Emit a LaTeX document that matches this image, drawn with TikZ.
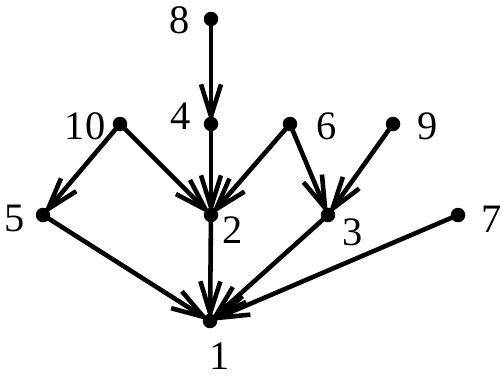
\documentclass[tikz,border=0pt]{standalone}
\usepackage{fontspec}
\setmainfont{Liberation Serif}
\usetikzlibrary{arrows.meta, backgrounds}

\begin{document}
\begin{tikzpicture}[
    x=0.02cm, y=-0.02cm,
    vertex/.style={circle, fill, inner sep=0pt, minimum size=0.29cm},
    lab/.style={font=\fontsize{23}{27}\selectfont, inner sep=0pt},
    arrow/.style={-{Straight Barb[length=0.64cm, width=0.4cm, line width=2.6pt]}, line width=2.6pt}
]
    \useasboundingbox (0,0) rectangle (503,376);

    % === Vertices ===
    \node[vertex] (n8) at (211, 19) {};
    \node[vertex] (n4) at (211, 124) {};
    \node[vertex] (n10) at (120, 124) {};
    \node[vertex] (n6) at (290, 124) {};
    \node[vertex] (n9) at (393, 124) {};
    \node[vertex] (n5) at (43, 215) {};
    \node[vertex] (n2) at (211, 215) {};
    \node[vertex] (n3) at (328, 215) {};
    \node[vertex] (n7) at (458, 215) {};
    \node[vertex] (n1) at (210, 321) {};

    % Labels
    \node[lab] (l8) at (180, 20) {8};
    \node[lab] (l4) at (181, 116) {4};
    \node[lab] (l10) at (85, 126) {10};
    \node[lab] (l6) at (327, 126) {6};
    \node[lab] (l9) at (428, 126) {9};
    \node[lab] (l5) at (15, 218) {5};
    \node[lab] (l2) at (233, 230) {2};
    \node[lab] (l3) at (353, 232) {3};
    \node[lab] (l7) at (492, 219) {7};
    \node[lab] (l1) at (220, 356) {1};

    % === Edges ===
    \begin{pgfonlayer}{background}
        \draw[arrow] (n8.center) -- (n4.center);
        \draw[arrow] (n10.center) -- (n5.center);
        \draw[arrow] (n10.center) -- (n2.center);
        \draw[arrow] (n4.center) -- (n2.center);
        \draw[arrow] (n6.center) -- (n2.center);
        \draw[arrow] (n6.center) -- (n3.center);
        \draw[arrow] (n9.center) -- (n3.center);
        \draw[arrow] (n5.center) -- (n1.center);
        \draw[arrow] (n2.center) -- (n1.center);
        \draw[arrow] (n3.center) -- (n1.center);
        \draw[arrow] (n7.center) -- (n1.center);
    \end{pgfonlayer}
\end{tikzpicture}
\end{document}
